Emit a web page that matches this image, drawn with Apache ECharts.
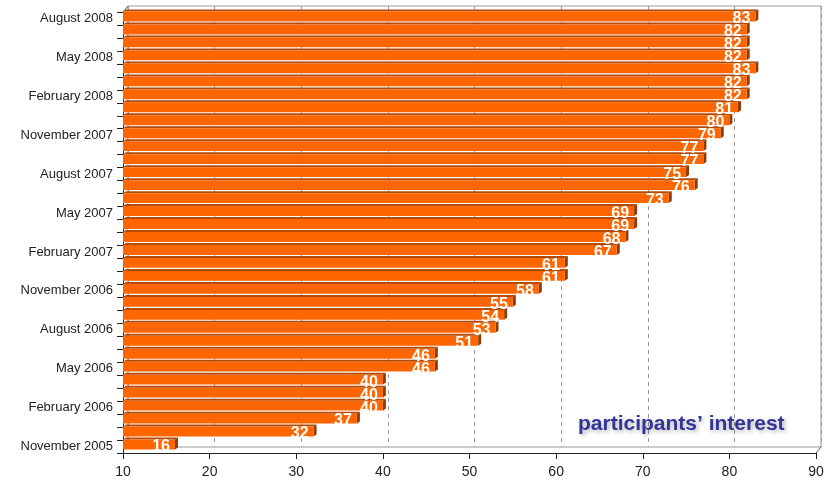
<!DOCTYPE html>
<html>
<head>
<meta charset="utf-8">
<script src="https://cdn.jsdelivr.net/npm/echarts@6/dist/echarts.min.js"></script>
<style>
  html, body { margin: 0; padding: 0; background: #fff; }
  #chart { width: 837px; height: 487px; }
</style>
</head>
<body>
<div id="chart"></div>
<script>
// Monthly participants' interest, oldest month first (bottom of the chart)
const months = [
  'November 2005', 'December 2005', 'January 2006', 'February 2006', 'March 2006', 'April 2006',
  'May 2006', 'June 2006', 'July 2006', 'August 2006', 'September 2006', 'October 2006',
  'November 2006', 'December 2006', 'January 2007', 'February 2007', 'March 2007', 'April 2007',
  'May 2007', 'June 2007', 'July 2007', 'August 2007', 'September 2007', 'October 2007',
  'November 2007', 'December 2007', 'January 2008', 'February 2008', 'March 2008', 'April 2008',
  'May 2008', 'June 2008', 'July 2008', 'August 2008'
];
const interest = [
  16, 32, 37, 40, 40, 40,
  46, 46, 51, 53, 54, 55,
  58, 61, 61, 67, 68, 69,
  69, 73, 76, 75, 77, 77,
  79, 80, 81, 82, 82, 83,
  82, 82, 82, 83
];
const xTicks = { min: 10, max: 90, step: 10 };
const captionText = 'participants\u2019 interest';

const FONT = '"Liberation Sans", Arial, sans-serif';
const FRONT = '#FF6600';
const TOP = '#B34A08';
const SIDE = '#8E3A06';

// front plane and back wall of the pseudo-3D plot box
const W = 837, H = 487;
const front = { left: 123, right: 21, top: 12, bottom: 34 };
const depth = 5;
const back = { left: front.left + depth, right: front.right - depth, top: front.top - 6, bottom: front.bottom + 6 };

// Pseudo-3D bar: front face, thin top face and a dark end face, plus the value label
function renderBar(params, api) {
  const v = api.value(0);
  const i = api.value(1);
  const start = api.coord([xTicks.min, i]);
  const end = api.coord([v, i]);
  const band = api.size([0, 1])[1];
  const h = band * 0.76;
  const yc = start[1] - 2;
  const y0 = yc - h / 2;
  const y1 = yc + h / 2;
  const dx = 3, dy = 2;
  const x0 = start[0], x1 = end[0];
  return {
    type: 'group',
    children: [
      { type: 'polygon', shape: { points: [[x0, y0], [x1, y0], [x1 + dx, y0 - dy], [x0 + dx, y0 - dy]] },
        style: { fill: TOP } },
      { type: 'polygon', shape: { points: [[x1, y0], [x1 + dx, y0 - dy], [x1 + dx, y1 - dy], [x1, y1]] },
        style: { fill: SIDE } },
      { type: 'rect', shape: { x: x0, y: y0, width: x1 - x0, height: h },
        style: { fill: FRONT } },
      { type: 'text', z2: 10,
        style: { text: String(v), x: x1 - 5, y: yc + 2.5, align: 'right', verticalAlign: 'middle',
                 fill: '#fff', font: 'bold 16px ' + FONT } }
    ]
  };
}

const chart = echarts.init(document.getElementById('chart'), null, { renderer: 'canvas' });
chart.setOption({
  animation: false,
  backgroundColor: '#fff',
  title: {
    text: captionText,
    left: 573, top: 409,
    textStyle: {
      fontFamily: FONT, fontWeight: 'bold', fontSize: 21, color: '#333399',
      textShadowColor: 'rgba(0,0,0,0.3)', textShadowBlur: 4, textShadowOffsetX: 2, textShadowOffsetY: 2
    }
  },
  grid: [
    Object.assign({}, front),
    Object.assign({ show: true, borderColor: '#9a9a9a', borderWidth: 1, z: 0 }, back)
  ],
  // corner edges joining the front axes to the back wall
  graphic: [
    { type: 'line', z: 1, shape: { x1: front.left, y1: front.top, x2: back.left, y2: back.top },
      style: { stroke: '#555', lineWidth: 1 } },
    { type: 'line', z: 1, shape: { x1: W - front.right, y1: H - front.bottom, x2: W - back.right, y2: H - back.bottom },
      style: { stroke: '#555', lineWidth: 1 } }
  ],
  xAxis: [
    {
      gridIndex: 0, type: 'value', min: xTicks.min, max: xTicks.max, interval: xTicks.step,
      axisLine: { show: true, lineStyle: { color: '#222', width: 1 } },
      axisTick: { show: true, length: 6, lineStyle: { color: '#222' } },
      axisLabel: { color: '#222', fontSize: 14, fontFamily: FONT, margin: 12 },
      splitLine: { show: false }
    },
    {
      gridIndex: 1, type: 'value', min: xTicks.min, max: xTicks.max, interval: xTicks.step,
      axisLine: { show: false }, axisTick: { show: false }, axisLabel: { show: false },
      splitLine: { show: true, lineStyle: { color: '#9a9a9a', type: [4, 4], width: 1 } }
    }
  ],
  yAxis: [
    {
      gridIndex: 0, type: 'category', data: months,
      axisLine: { show: true, lineStyle: { color: '#222', width: 1 } },
      axisTick: { show: true, length: 6, interval: 0, lineStyle: { color: '#222' } },
      axisLabel: {
        color: '#222', fontSize: 13, fontFamily: FONT, margin: 10,
        interval: function (idx) { return idx % 3 === 0; }
      }
    },
    { gridIndex: 1, type: 'value', show: false, min: 0, max: 1 }
  ],
  series: [
    {
      type: 'custom',
      xAxisIndex: 0, yAxisIndex: 0,
      renderItem: renderBar,
      encode: { x: 0, y: 1 },
      data: interest.map(function (v, i) { return [v, i]; }),
      z: 5
    }
  ]
});
</script>
</body>
</html>
